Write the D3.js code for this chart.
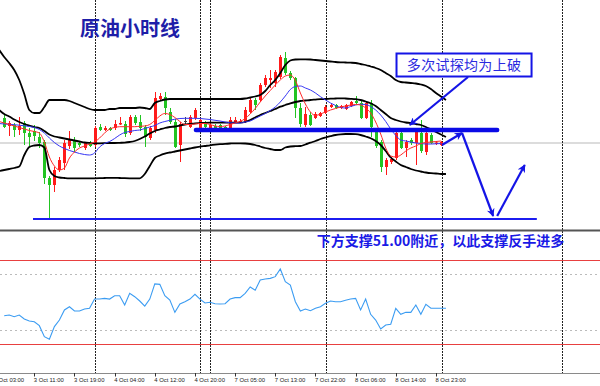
<!DOCTYPE html>
<html><head><meta charset="utf-8">
<script src="https://cdn.jsdelivr.net/npm/d3@7/dist/d3.min.js"></script>
<style>html,body{margin:0;padding:0;background:#fff;overflow:hidden}svg{display:block}</style>
</head><body><svg id="c" width="600" height="386"></svg>
<script>
// ---------- DATA ----------
const opens = [52.01,51.93,51.94,51.89,51.96,51.86,51.88,51.82,51.77,51.41,
51.34,51.49,51.56,51.73,51.79,51.76,51.71,51.76,51.74,51.92,
51.89,51.91,51.91,51.945,51.95,51.86,52.02,51.97,51.92,51.81,
51.89,52.20,52.22,52.07,51.97,51.74,51.98,51.92,52.01,51.91,
51.96,51.91,51.93,51.94,51.92,51.89,51.97,51.965,51.97,52.07,
52.19,52.19,52.34,52.39,52.36,52.42,52.61,52.46,52.41,52.11,
51.94,52.04,52.01,52.03,52.06,52.12,52.14,52.11,52.10,52.13,
52.18,52.16,52.01,52.16,51.87,51.77,51.52,51.57,51.61,51.86,
51.71,51.79,51.76,51.86,51.67,51.84,51.75,51.74];
const highs = [52.04,51.98,51.96,52.02,51.98,51.91,51.94,51.87,51.79,51.43,
51.52,51.62,51.79,51.88,51.82,51.78,51.77,51.78,51.93,51.95,
51.93,51.92,51.99,52.02,51.98,52.04,52.04,52.04,51.94,51.93,
52.27,52.26,52.27,52.11,52.00,51.97,52.02,52.04,52.11,52.01,
51.98,51.96,51.95,51.95,51.93,52.02,52.02,52.00,52.12,52.22,
52.21,52.36,52.44,52.49,52.49,52.64,52.67,52.48,52.42,52.16,
52.12,52.07,52.07,52.07,52.14,52.15,52.15,52.14,52.15,52.18,
52.23,52.18,52.18,52.19,51.91,51.79,51.61,51.62,51.88,51.88,
51.79,51.81,51.91,51.99,51.88,51.86,51.78,51.78];
const lows = [51.91,51.83,51.82,51.84,51.74,51.73,51.78,51.71,51.35,51.00,
51.27,51.47,51.49,51.70,51.67,51.72,51.69,51.72,51.72,51.88,
51.88,51.88,51.89,51.94,51.82,51.84,51.94,51.88,51.72,51.79,
51.86,52.18,52.04,51.95,51.71,51.57,51.94,51.91,51.99,51.90,
51.91,51.90,51.89,51.87,51.90,51.87,51.96,51.96,51.96,52.06,
52.09,52.17,52.32,52.31,52.32,52.40,52.44,52.39,52.01,51.92,
51.92,51.93,52.00,52.02,52.05,52.11,52.10,52.10,52.09,52.12,
52.15,52.00,52.00,51.82,51.71,51.47,51.44,51.55,51.59,51.70,
51.62,51.74,51.54,51.66,51.64,51.75,51.74,51.73];
const closes = [51.92,51.96,51.89,51.93,51.86,51.82,51.83,51.76,51.41,51.34,
51.49,51.59,51.76,51.79,51.71,51.74,51.76,51.73,51.91,51.89,
51.91,51.89,51.95,51.96,51.85,52.02,51.96,51.91,51.82,51.91,
52.21,52.23,52.11,51.97,51.72,51.95,51.98,52.02,52.09,51.99,
51.92,51.94,51.91,51.89,51.905,51.99,51.99,51.98,52.09,52.19,
52.14,52.34,52.41,52.41,52.47,52.62,52.46,52.41,52.11,51.95,
52.05,51.94,52.05,52.06,52.12,52.14,52.11,52.13,52.14,52.17,
52.16,52.01,52.16,51.92,51.73,51.52,51.59,51.60,51.86,51.71,
51.77,51.76,51.87,51.68,51.86,51.76,51.765,51.77];

// Bollinger bands, first value belongs to bar -1
const bbUpper = [52.69,52.62,52.56,52.49,52.39,52.25,52.09,52.06,52.06,52.12,
52.19,52.19,52.19,52.19,52.18,52.16,52.14,52.12,52.10,52.09,
52.09,52.09,52.10,52.10,52.11,52.11,52.11,52.11,52.115,52.11,
52.10,52.16,52.18,52.195,52.20,52.20,52.20,52.20,52.20,52.20,
52.20,52.20,52.20,52.20,52.20,52.20,52.20,52.20,52.20,52.205,
52.215,52.225,52.24,52.28,52.34,52.39,52.46,52.54,52.585,52.595,
52.597,52.597,52.595,52.59,52.585,52.58,52.575,52.57,52.567,52.565,
52.563,52.56,52.55,52.54,52.525,52.51,52.49,52.46,52.43,52.39,
52.37,52.365,52.36,52.355,52.345,52.33,52.30,52.26,52.225,52.19];
const bbMiddle = [52.09,52.05,52.025,51.995,51.97,51.95,51.935,51.92,51.91,51.88,
51.845,51.825,51.815,51.805,51.795,51.785,51.775,51.765,51.76,51.757,
51.757,51.758,51.76,51.76,51.762,51.764,51.77,51.78,51.80,51.825,
51.855,51.88,51.895,51.91,51.92,51.925,51.935,51.945,51.95,51.957,
51.96,51.962,51.963,51.963,51.963,51.963,51.963,51.963,51.963,51.97,
51.99,52.015,52.04,52.06,52.08,52.10,52.123,52.14,52.157,52.17,
52.18,52.185,52.19,52.194,52.198,52.20,52.203,52.205,52.207,52.205,
52.202,52.198,52.19,52.175,52.157,52.13,52.09,52.05,52.01,51.99,
51.975,51.965,51.96,51.95,51.94,51.92,51.895,51.87,51.845,51.82];
const bbLower = [51.48,51.49,51.50,51.51,51.525,51.64,51.72,51.735,51.74,51.715,
51.49,51.43,51.415,51.41,51.407,51.407,51.407,51.407,51.407,51.407,
51.408,51.41,51.412,51.412,51.41,51.408,51.407,51.407,51.407,51.45,
51.53,51.61,51.635,51.653,51.665,51.675,51.685,51.695,51.705,51.715,
51.723,51.73,51.737,51.743,51.748,51.752,51.755,51.757,51.757,51.755,
51.75,51.74,51.725,51.71,51.70,51.69,51.69,51.715,51.725,51.728,
51.73,51.745,51.763,51.78,51.80,51.815,51.828,51.84,51.847,51.85,
51.85,51.848,51.84,51.825,51.808,51.78,51.74,51.68,51.615,51.575,
51.54,51.52,51.50,51.485,51.475,51.465,51.458,51.455,51.45,51.45];

// moving averages, first value belongs to bar -1
const maFast = [51.975,51.96,51.945,51.93,51.915,51.90,51.885,51.875,51.86,51.77,
51.62,51.53,51.49,51.51,51.61,51.67,51.71,51.73,51.75,51.77,
51.81,51.86,51.90,51.915,51.923,51.923,51.923,51.923,51.927,51.93,
51.945,51.985,52.03,52.055,52.045,52.015,51.975,51.945,51.945,51.95,
51.955,51.955,51.945,51.93,51.925,51.93,51.945,51.96,51.975,52.005,
52.05,52.105,52.17,52.23,52.285,52.34,52.39,52.43,52.44,52.385,
52.26,52.15,52.07,52.035,52.05,52.07,52.09,52.105,52.12,52.13,
52.14,52.145,52.14,52.11,52.06,51.97,51.85,51.71,51.63,51.62,
51.64,51.68,51.71,51.73,51.755,51.765,51.77,51.775,51.78];
const maSlow = [51.955,51.95,51.947,51.943,51.938,51.932,51.925,51.915,51.895,51.86,
51.81,51.765,51.73,51.705,51.685,51.67,51.655,51.645,51.64,51.66,
51.72,51.755,51.775,51.805,51.84,51.865,51.875,51.885,51.89,51.905,
51.92,51.935,51.96,51.975,51.987,51.998,52.005,52.007,52.007,52.007,
52.005,52.00,51.995,51.987,51.98,51.97,51.962,51.96,51.96,51.97,
51.98,52.005,52.03,52.055,52.085,52.12,52.17,52.23,52.295,52.325,
52.33,52.31,52.29,52.26,52.223,52.19,52.16,52.135,52.115,52.11,
52.125,52.14,52.148,52.145,52.125,52.09,52.04,51.975,51.90,51.835,
51.79,51.78,51.77,51.76,51.755,51.75,51.75,51.752,51.755];

// oscillator (lower panel), first value belongs to bar 0
const rsi = [40.2,40.7,39.5,40.7,37.9,36.4,35.9,33.1,25.2,23.4,
32.4,37.1,44.3,46.6,43.6,43.6,45.0,45.5,52.1,52.1,
52.6,52.1,54.5,54.5,47.9,56.2,53.8,50.7,47.1,52.1,
62.9,62.6,54.5,51.4,42.6,48.6,50.2,52.1,55.5,52.1,
49.3,49.8,48.8,48.6,48.8,52.1,53.1,53.1,56.2,60.7,
58.4,65.7,66.4,66.9,68.1,73.6,64.5,62.1,50.2,43.6,
45.0,43.8,45.5,46.6,49.1,50.7,50.2,50.2,51.2,52.1,
52.6,44.3,52.1,41.2,37.1,30.7,33.6,34.1,45.5,41.2,
42.6,42.6,47.9,41.2,48.4,45.5,45.5,45.5,45.5];
const rsiLevels = [80, 20];
const rsiDotted = [70, 30];

const tickBars = [-2,6,14,22,30,38,46,54,62,70,78,86];
const tickLabels = ["3 Oct 03:00","3 Oct 11:00","3 Oct 19:00","4 Oct 04:00","4 Oct 12:00","4 Oct 20:00",
  "7 Oct 05:00","7 Oct 13:00","7 Oct 22:00","8 Oct 06:00","8 Oct 14:00","8 Oct 23:00"];
const separators = [18, 39.1, 41, 64.1, 87.2, 111.2];

const currentPrice = 51.76;
const supportPrice = 51.00, supportBars = [5.74, 106.1];
const resistancePrice = 51.89, resistanceBars = [38.2, 98.2];
const boxArrow = [[92.4, 52.42], [80.8, 51.94]];
const pathArrows = [[[87.2,51.74],[91.2,51.86]], [[91.2,51.86],[97.4,51.03]], [[98.2,51.03],[103.7,51.54]]];
const boxBars = [78.15, 105.05], boxPrices = [52.655, 52.425];
const titleText = "原油小时线";
const boxText = "多次试探均为上破";
const noteText = "下方支撑51.00附近，以此支撑反手进多";

// ---------- DRAW ----------
const W = 600, H = 386;
const svg = d3.select('#c');
const x = d3.scaleLinear().domain([0, 88]).range([4.2, 445.96]);
const y = d3.scaleLinear().domain([50.89, 53.19]).range([230, 0]);
const yR = d3.scaleLinear().domain([0, 100]).range([372, 232]);
const BLUE = '#1414e6';

const defs = svg.append('defs');
defs.append('marker').attr('id','ah').attr('viewBox','0 0 10 10').attr('refX',9).attr('refY',5)
  .attr('markerWidth',10).attr('markerHeight',8).attr('markerUnits','userSpaceOnUse').attr('orient','auto')
  .append('path').attr('d','M0,0 L10,5 L0,10 L3,5 Z').attr('fill',BLUE);

// current price line
svg.append('line').attr('x1',0).attr('x2',W).attr('y1',y(currentPrice)).attr('y2',y(currentPrice))
  .attr('stroke','#dcdcdc').attr('stroke-width',2);

// RSI levels
svg.selectAll('.lvl').data(rsiLevels).enter().append('line')
  .attr('x1',0).attr('x2',W).attr('y1',d=>yR(d)+0.5).attr('y2',d=>yR(d)+0.5)
  .attr('stroke','#e84040').attr('stroke-width',1);
svg.selectAll('.dl').data(rsiDotted).enter().append('line')
  .attr('x1',0).attr('x2',W).attr('y1',d=>yR(d)+0.5).attr('y2',d=>yR(d)+0.5)
  .attr('stroke','#bbbbbb').attr('stroke-width',1).attr('stroke-dasharray','2,3');

// separators
svg.selectAll('.sep').data(separators).enter().append('line')
  .attr('x1',d=>Math.round(x(d))+0.5).attr('x2',d=>Math.round(x(d))+0.5).attr('y1',0).attr('y2',373)
  .attr('stroke','#222').attr('stroke-width',1).attr('stroke-dasharray','2,1');

// panel divider and axis
svg.append('line').attr('x1',0).attr('x2',W).attr('y1',230.5).attr('y2',230.5).attr('stroke','#555').attr('stroke-width',2);
svg.append('line').attr('x1',0).attr('x2',W).attr('y1',373.5).attr('y2',373.5).attr('stroke','#8a8a8a').attr('stroke-width',1);
const tg = svg.selectAll('.tk').data(tickBars).enter().append('g');
tg.append('line').attr('x1',d=>Math.round(x(d))+0.5).attr('x2',d=>Math.round(x(d))+0.5).attr('y1',373).attr('y2',376.5)
  .attr('stroke','#333').attr('stroke-width',1);
tg.append('text').attr('x',d=>x(d)-0.5).attr('y',381.5).text((d,i)=>tickLabels[i])
  .attr('font-family','Liberation Sans, Arial, sans-serif').attr('font-size',5.9).attr('fill','#222');

// candles
const bars = d3.range(opens.length);
const col = i => closes[i] > opens[i] ? '#ff1a1a' : (closes[i] < opens[i] ? '#22c422' : '#444');
svg.selectAll('.wk').data(bars).enter().append('line')
  .attr('x1',i=>Math.round(x(i))+0.5).attr('x2',i=>Math.round(x(i))+0.5)
  .attr('y1',i=>y(highs[i])).attr('y2',i=>y(lows[i])).attr('stroke',col).attr('stroke-width',1);
svg.selectAll('.bd').data(bars).enter().append('rect')
  .attr('x',i=>Math.round(x(i))-1).attr('width',3)
  .attr('y',i=>y(Math.max(opens[i],closes[i])))
  .attr('height',i=>Math.max(1, Math.abs(y(opens[i])-y(closes[i]))))
  .attr('fill',col);

// bands
const lineFrom = (start) => d3.line().x((d,i)=>x(i+start)).y(d=>y(d)).curve(d3.curveMonotoneX);
[bbUpper,bbMiddle,bbLower].forEach(s=>{
  svg.append('path').attr('d',lineFrom(-1)(s)).attr('fill','none').attr('stroke','#000').attr('stroke-width',1.8);
});
svg.append('path').attr('d',lineFrom(-1)(maSlow)).attr('fill','none').attr('stroke','#3434f4').attr('stroke-width',1);
svg.append('path').attr('d',lineFrom(-1)(maFast)).attr('fill','none').attr('stroke','#ff2a2a').attr('stroke-width',1);

// RSI
svg.append('path').attr('d',d3.line().x((d,i)=>x(i)).y(d=>yR(d))(rsi))
  .attr('fill','none').attr('stroke','#3b9cf2').attr('stroke-width',1.1);

// annotations
svg.append('line').attr('x1',x(supportBars[0])).attr('x2',x(supportBars[1])).attr('y1',y(supportPrice)).attr('y2',y(supportPrice))
  .attr('stroke','#1c1cf0').attr('stroke-width',2);
svg.append('line').attr('x1',x(resistanceBars[0])).attr('x2',x(resistanceBars[1])).attr('y1',y(resistancePrice)).attr('y2',y(resistancePrice))
  .attr('stroke','#0a0ae6').attr('stroke-width',4.5).attr('stroke-linecap','round');
const arrow = (a)=>svg.append('line').attr('x1',x(a[0][0])).attr('y1',y(a[0][1])).attr('x2',x(a[1][0])).attr('y2',y(a[1][1]))
  .attr('stroke',BLUE).attr('stroke-width',2.2).attr('marker-end','url(#ah)');
arrow(boxArrow);
pathArrows.forEach(arrow);

svg.append('rect').attr('x',x(boxBars[0])).attr('y',y(boxPrices[0])).attr('width',x(boxBars[1])-x(boxBars[0]))
  .attr('height',y(boxPrices[1])-y(boxPrices[0])).attr('fill','#fff').attr('stroke',BLUE).attr('stroke-width',2);
svg.append('text').attr('x',(x(boxBars[0])+x(boxBars[1]))/2).attr('y',(y(boxPrices[0])+y(boxPrices[1]))/2+5)
  .attr('text-anchor','middle').attr('font-family','Noto Sans CJK SC').attr('font-size',14).attr('fill','#2a2ae0')
  .attr('letter-spacing',0.3).text(boxText);

svg.append('text').attr('x',80).attr('y',36).attr('font-family','Noto Sans CJK SC').attr('font-weight',700)
  .attr('font-size',20).attr('fill','#1e1ea8').text(titleText);
svg.append('text').attr('x',x(62.25)).attr('y',yR(90)).attr('font-family','Noto Sans CJK SC').attr('font-weight',700)
  .attr('font-size',14).attr('fill','#1a1ae6').text(noteText);
</script>
</body></html>
